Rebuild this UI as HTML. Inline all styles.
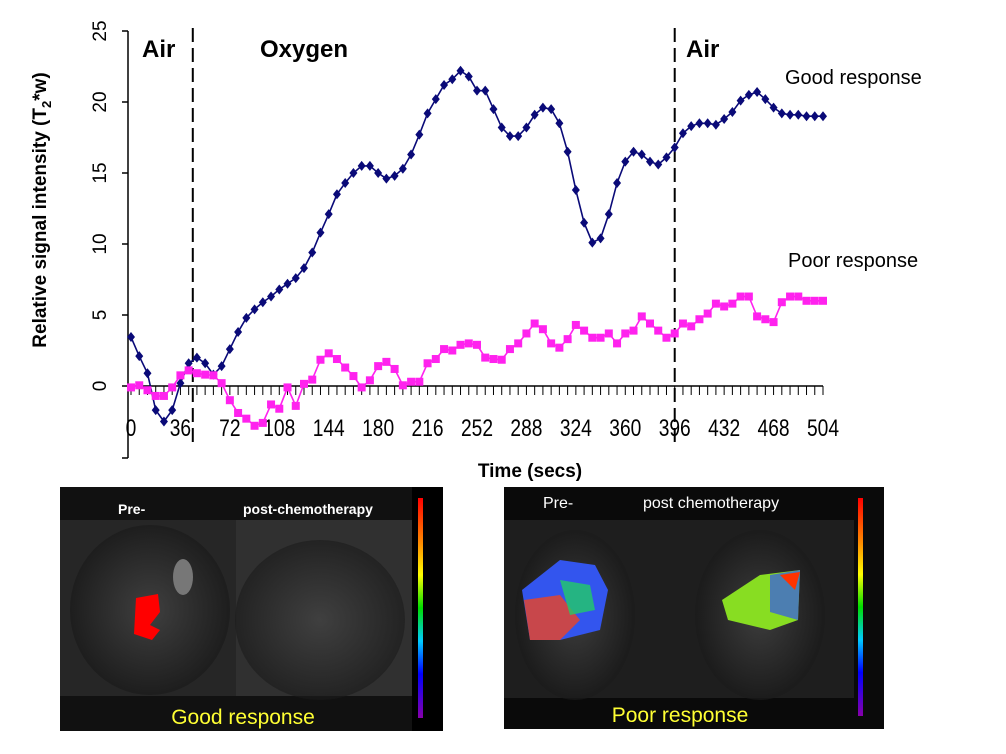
<!DOCTYPE html>
<html><head><meta charset="utf-8"><style>
body{margin:0;background:#fff;}
svg{display:block;font-family:"Liberation Sans",sans-serif;}
</style></head><body>
<svg id="chart" width="1006" height="754" viewBox="0 0 1006 754">
<defs>
<radialGradient id="glow" cx="50%" cy="50%" r="50%"><stop offset="0" stop-color="#4a4a4a"/><stop offset="1" stop-color="#1a1a1a"/></radialGradient>
<linearGradient id="cbar" x1="0" y1="0" x2="0" y2="1">
<stop offset="0" stop-color="#ff0000"/><stop offset="0.2" stop-color="#ff8800"/><stop offset="0.35" stop-color="#ffff00"/><stop offset="0.5" stop-color="#00dd00"/><stop offset="0.65" stop-color="#00ccff"/><stop offset="0.8" stop-color="#0000ff"/><stop offset="1" stop-color="#8800aa"/></linearGradient>
</defs>
<g id="axes"></g>
<g id="series"></g>
<text x="142" y="57" font-size="24" font-weight="bold">Air</text>
<text x="260" y="57" font-size="24" font-weight="bold">Oxygen</text>
<text x="686" y="57" font-size="24" font-weight="bold">Air</text>
<text x="785" y="84" font-size="20">Good response</text>
<text x="788" y="267" font-size="20">Poor response</text>
<text x="530" y="477" font-size="19" font-weight="bold" text-anchor="middle">Time (secs)</text>
<text transform="translate(46,210) rotate(-90)" font-size="19" font-weight="bold" text-anchor="middle">Relative signal intensity (T<tspan font-size="13" dy="5">2</tspan><tspan dy="-5">*w)</tspan></text>

<g>
<rect x="60" y="487" width="383" height="244" fill="#111"/>
<rect x="60" y="520" width="176" height="176" fill="#262626"/>
<rect x="236" y="520" width="176" height="176" fill="#303030"/>
<ellipse cx="150" cy="610" rx="80" ry="85" fill="url(#glow)" opacity="0.7"/>
<ellipse cx="320" cy="620" rx="85" ry="80" fill="url(#glow)" opacity="0.6"/>
<ellipse cx="183" cy="577" rx="10" ry="18" fill="#777"/>
<path d="M136 598 L158 594 L160 612 L150 625 L160 630 L152 640 L134 634 Z" fill="#f00"/>
<rect x="412" y="487" width="31" height="244" fill="#000"/>
<rect x="418" y="498" width="5" height="220" fill="url(#cbar)"/>
<text x="118" y="514" font-size="14" font-weight="bold" fill="#fff">Pre-</text>
<text x="243" y="514" font-size="14" font-weight="bold" fill="#fff">post-chemotherapy</text>
<text x="243" y="724" font-size="21" fill="#ffff33" text-anchor="middle">Good response</text>
</g>
<g>
<rect x="504" y="487" width="380" height="242" fill="#0a0a0a"/>
<rect x="504" y="520" width="350" height="178" fill="#1e1e1e"/>
<ellipse cx="575" cy="615" rx="60" ry="85" fill="url(#glow)" opacity="0.7"/>
<ellipse cx="760" cy="615" rx="65" ry="85" fill="url(#glow)" opacity="0.7"/>
<path d="M522 590 L560 560 L595 565 L608 590 L600 630 L560 640 L530 640 Z" fill="#3355ee"/>
<path d="M524 600 L560 595 L580 620 L560 640 L530 640 Z" fill="#ee4422" opacity="0.8"/>
<path d="M560 580 L590 585 L595 610 L570 615 Z" fill="#22cc66" opacity="0.8"/>
<path d="M722 600 L760 575 L800 570 L798 620 L770 630 L728 620 Z" fill="#88dd22"/>
<path d="M770 575 L800 570 L798 620 L770 612 Z" fill="#3355ee" opacity="0.7"/>
<path d="M780 575 L800 572 L795 590 Z" fill="#ff3300"/>
<rect x="858" y="498" width="5" height="218" fill="url(#cbar)"/>
<text x="543" y="508" font-size="16" fill="#fff">Pre-</text>
<text x="643" y="508" font-size="16" fill="#fff">post chemotherapy</text>
<text x="680" y="722" font-size="21" fill="#ffff33" text-anchor="middle">Poor response</text>
</g>
</svg>
<script>
const times = [];
for (let i = 0; i <= 84; i++) times.push(i * 6);
const goodResponse = [3.45,2.1,0.9,-1.7,-2.5,-1.7,0.2,1.6,2.0,1.6,0.8,1.4,2.6,3.8,4.8,5.4,5.9,6.3,6.8,7.2,7.6,8.3,9.4,10.8,12.1,13.5,14.3,15.0,15.5,15.5,15.0,14.6,14.8,15.3,16.3,17.7,19.2,20.2,21.2,21.6,22.2,21.8,20.8,
20.8,19.5,18.2,17.6,17.6,18.2,19.1,19.6,19.5,18.5,16.5,13.8,11.5,10.1,10.4,12.1,14.3,15.8,16.5,16.3,15.8,15.6,16.1,16.8,17.8,18.3,18.5,18.5,18.4,18.8,19.3,20.1,20.5,20.7,20.2,19.6,19.2,19.1,19.1,19.0,19.0,19.0];
const poorResponse = [-0.1,0.05,-0.3,-0.7,-0.7,-0.1,0.75,1.1,0.9,0.8,0.75,0.2,-1.0,-1.9,-2.3,-2.8,-2.6,-1.3,-1.6,-0.1,-1.4,0.15,0.45,1.85,2.3,1.9,1.3,0.7,-0.1,0.4,1.4,1.7,1.2,0.05,0.3,0.3,1.6,1.9,2.6,2.5,2.9,3.0,2.9,
2.0,1.9,1.85,2.6,3.0,3.7,4.4,4.0,3.0,2.7,3.3,4.3,3.9,3.4,3.4,3.7,3.0,3.7,3.9,4.9,4.4,3.9,3.4,3.7,4.4,4.2,4.7,5.1,5.8,5.6,5.8,6.3,6.3,4.9,4.7,4.5,5.9,6.3,6.3,6.0,6.0,6.0];
const xTicks = [0,36,72,108,144,180,216,252,288,324,360,396,432,468,504];
const yTicks = [0,5,10,15,20,25];
const phaseChanges = [45,396];

const NS = "http://www.w3.org/2000/svg";
const xS = t => 131 + t * (692 / 504);
const yS = v => 386 - v * (355 / 25);
function mk(tag, attrs, parent) {
  const e = document.createElementNS(NS, tag);
  for (const k in attrs) e.setAttribute(k, attrs[k]);
  parent.appendChild(e);
  return e;
}
const ax = document.getElementById('axes');
let l = mk('line', {x1:128,y1:yS(25),x2:128,y2:458,stroke:'#000','stroke-width':1.5}, ax);


l = mk('line', {x1:xS(0),y1:386,x2:xS(504),y2:386,stroke:'#000','stroke-width':1.5}, ax);


yTicks.forEach(v => {
  mk('line', {x1:122,y1:yS(v),x2:128,y2:yS(v),stroke:'#000','stroke-width':1.5}, ax);
  const t = mk('text', {transform:`translate(106,${yS(v)}) rotate(-90)`,'font-size':19,'text-anchor':'middle'}, ax);
  t.textContent = v;
  
  
});
for (let i = 0; i <= 84; i++) {
  mk('line', {x1:xS(i*6),y1:386,x2:xS(i*6),y2:395,stroke:'#000','stroke-width':1}, ax);
}
mk('line', {x1:128,y1:458,x2:122,y2:458,stroke:'#000','stroke-width':1.5}, ax);
xTicks.forEach(v => {
  const t = mk('text', {x:xS(v),y:436,'font-size':24,'text-anchor':'middle',transform:`translate(${xS(v)},0) scale(0.8,1) translate(${-xS(v)},0)`}, ax);
  t.textContent = v;
  
  
});
phaseChanges.forEach(p => {
  const d = mk('line', {x1:xS(p),y1:28,x2:xS(p),y2:442,stroke:'#000','stroke-width':2,'stroke-dasharray':'14,6'}, ax);
  
  
});
const sg = document.getElementById('series');
function drawSeries(vals, color, shape, name) {
  const p = mk('polyline', {points: vals.map((v,i)=>xS(times[i])+','+yS(v)).join(' '), fill:'none', stroke:color, 'stroke-width':1.6}, sg);
  
  
  vals.forEach((v,i) => {
    const x = xS(times[i]), y = yS(v);
    let m;
    if (shape === 'diamond') m = mk('polygon', {points:`${x},${y-5} ${x+4},${y} ${x},${y+5} ${x-4},${y}`, fill:color}, sg);
    else m = mk('rect', {x:x-4,y:y-4,width:8,height:8,fill:color}, sg);
    
    
  });
}
drawSeries(goodResponse, '#0a0a78', 'diamond', 'good-response');
drawSeries(poorResponse, '#ff22ee', 'square', 'poor-response');
</script>
</body></html>
